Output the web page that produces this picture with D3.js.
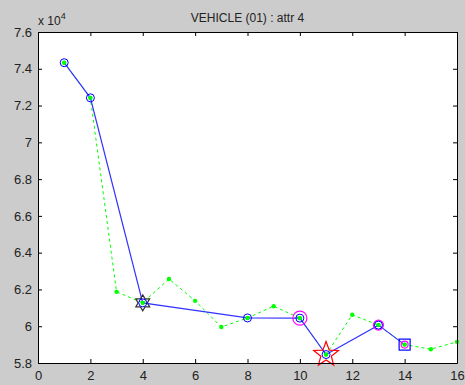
<!DOCTYPE html>
<html>
<head>
<meta charset="utf-8">
<script src="https://cdn.jsdelivr.net/npm/d3@7"></script>
<style>
	body { margin: 0; background: #cccccc; }
	svg { display: block; font-family: 'Liberation Sans', Arial, sans-serif; }
	.axis text { font-size: 13px; fill: #222; }
</style>
</head>
<body>
<svg id="svg" width="465" height="385"></svg>
<script>
// data (values in raw units, axis shows x 10^4)
const steps = [1, 2, 3, 4, 5, 6, 7, 8, 9, 10, 11, 12, 13, 14, 15, 16];
const attrValues = [74330, 72420, 61870, 61270, 62570, 61380, 59960, 60450, 61090, 60440, 58460, 60620, 60060, 59000, 58750, 59150];
const keySteps = [1, 2, 4, 8, 10, 11, 13, 14];
const xTicks = [0, 2, 4, 6, 8, 10, 12, 14, 16];
const yTicks = [58000, 60000, 62000, 64000, 66000, 68000, 70000, 72000, 74000, 76000];
const titleText = 'VEHICLE (01) : attr 4';

const margin = { top: 32, right: 8, bottom: 22, left: 38 };
const width = 465 - margin.left - margin.right,
	height = 385 - margin.top - margin.bottom;

const svg = d3.select('#svg');
const g = svg.append('g').attr('transform', `translate(${margin.left},${margin.top})`);

const x = d3.scaleLinear().domain([0, 16]).range([0, width]);
const y = d3.scaleLinear().domain([58000, 76000]).range([height, 0]);

// plot area
g.append('rect').attr('width', width).attr('height', height).attr('fill', '#fff');

const all = steps.map((s, i) => ({ step: s, val: attrValues[i] }));
const keys = all.filter(d => keySteps.includes(d.step));

const line = d3.line().x(d => x(d.step)).y(d => y(d.val));

// green dashed series
g.append('path').datum(all)
	.attr('d', line)
	.attr('fill', 'none')
	.attr('stroke', '#00ff00')
	.attr('stroke-width', 1)
	.attr('stroke-dasharray', '3,3');
g.selectAll('.gdot').data(all).enter().append('circle')
	.attr('cx', d => x(d.step)).attr('cy', d => y(d.val))
	.attr('r', 2.2).attr('fill', '#00ff00');

// blue solid series
g.append('path').datum(keys)
	.attr('d', line)
	.attr('fill', 'none')
	.attr('stroke', '#3333ff')
	.attr('stroke-width', 1.2);

// star polygon helper (points, outer, inner radius)
function starPath(n, ro, ri) {
	const pts = d3.range(n * 2).map(k => {
		const a = -Math.PI / 2 + k * Math.PI / n;
		const r = k % 2 ? ri : ro;
		return [r * Math.cos(a), r * Math.sin(a)];
	});
	return 'M' + pts.join('L') + 'Z';
}

const at = s => keys.find(d => d.step === s);
const tr = d => `translate(${x(d.step)},${y(d.val)})`;

// special markers
g.append('path').attr('d', starPath(6, 8, 4.6)).attr('transform', tr(at(4)))
	.attr('fill', 'none').attr('stroke', '#333').attr('stroke-width', 1.2);
g.append('circle').attr('transform', tr(at(10))).attr('r', 7)
	.attr('fill', 'none').attr('stroke', '#ff00ff').attr('stroke-width', 1.2);
g.append('path').attr('d', starPath(5, 13, 5.5)).attr('transform', tr(at(11)))
	.attr('fill', 'none').attr('stroke', '#ff0000').attr('stroke-width', 1.2);
g.append('circle').attr('transform', tr(at(13))).attr('r', 5)
	.attr('fill', 'none').attr('stroke', '#ff00ff').attr('stroke-width', 1.2);
g.append('circle').attr('transform', tr(at(14))).attr('r', 3.5)
	.attr('fill', 'none').attr('stroke', '#ff00ff').attr('stroke-width', 1.2);
g.append('rect').attr('transform', tr(at(14))).attr('x', -5.5).attr('y', -5.5)
	.attr('width', 11).attr('height', 11)
	.attr('fill', 'none').attr('stroke', '#0000ff').attr('stroke-width', 1.2);

// blue open circles on key points
g.selectAll('.bdot').data(keys.filter(d => d.step !== 14)).enter().append('circle')
	.attr('cx', d => x(d.step)).attr('cy', d => y(d.val))
	.attr('r', 4).attr('fill', 'none').attr('stroke', '#0000ff').attr('stroke-width', 1);
g.selectAll('.gdot2').data(keys).enter().append('circle')
	.attr('cx', d => x(d.step)).attr('cy', d => y(d.val))
	.attr('r', 2).attr('fill', '#00ff00');

// axes with inward ticks
const xAxis = d3.axisBottom(x).tickValues(xTicks).tickSizeInner(-4).tickSizeOuter(0).tickPadding(8);
const yAxis = d3.axisLeft(y).tickValues(yTicks).tickSizeInner(-4).tickSizeOuter(0).tickPadding(6)
	.tickFormat(d => d3.format('~g')(d / 1e4));

g.append('g').attr('class', 'x axis').attr('transform', `translate(0,${height})`).call(xAxis);
g.append('g').attr('class', 'y axis').call(yAxis);
g.append('g').attr('class', 'axis').call(d3.axisTop(x).tickValues(xTicks).tickSizeInner(-4).tickSizeOuter(0).tickFormat(''));
g.append('g').attr('class', 'axis').attr('transform', `translate(${width},0)`)
	.call(d3.axisRight(y).tickValues(yTicks).tickSizeInner(-4).tickSizeOuter(0).tickFormat(''));
g.selectAll('.axis path.domain').attr('stroke', '#000');
g.selectAll('.axis line').attr('stroke', '#000');

// title and exponent
svg.append('text').attr('x', margin.left + width / 2).attr('y', 22)
	.attr('text-anchor', 'middle').attr('font-size', 12).attr('fill', '#222')
	.text(titleText);
const ex = svg.append('text').attr('x', margin.left).attr('y', 25)
	.attr('font-size', 12).attr('fill', '#222');
ex.append('tspan').text('x 10');
ex.append('tspan').attr('dy', -6).attr('font-size', 9).text('4');
</script>
</body>
</html>
